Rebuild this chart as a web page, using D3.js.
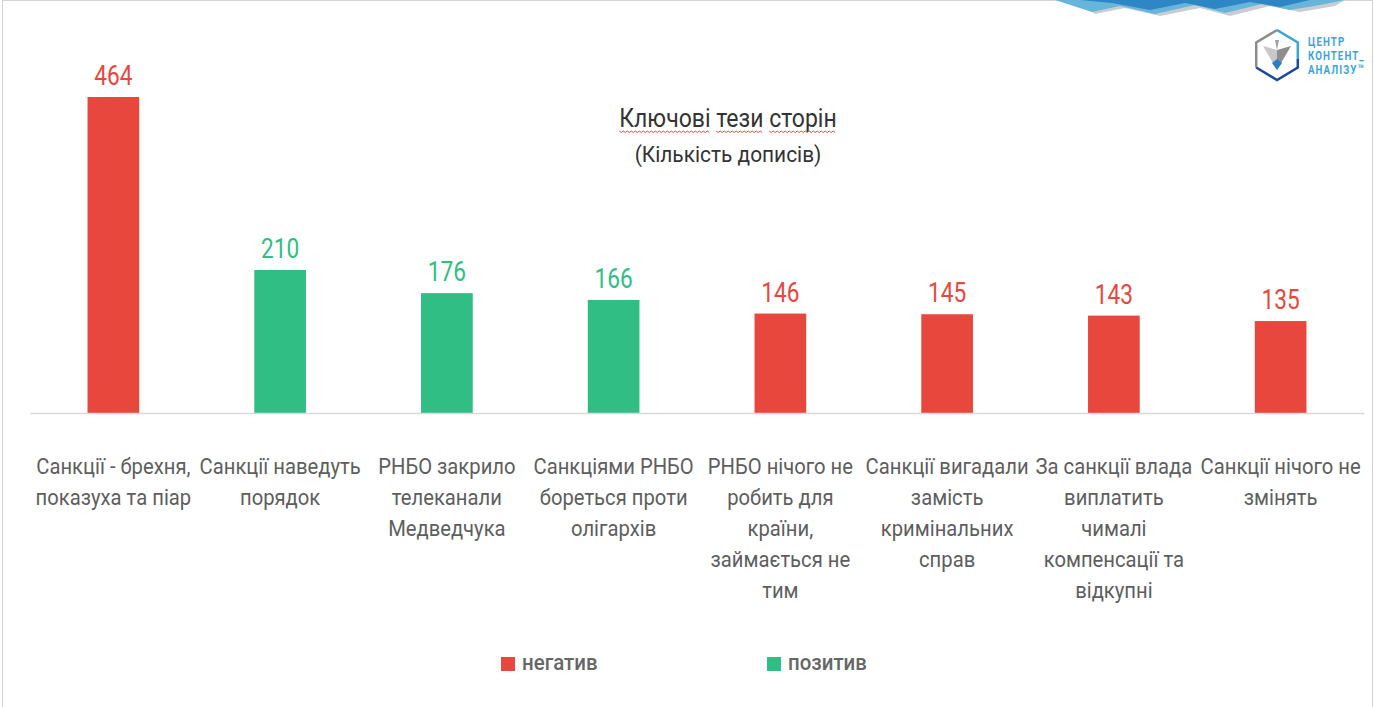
<!DOCTYPE html>
<html>
<head>
<meta charset="utf-8">
<script src="https://cdn.jsdelivr.net/npm/d3@7"></script>
<style>
    html, body { margin: 0; padding: 0; background: #fff; }
    svg text { font-family: Roboto, "Noto Sans", sans-serif; }
</style>
</head>
<body>
<div id="chart"></div>
<script>
// chart data
var categories = [
    ['Санкції - брехня,', 'показуха та піар'],
    ['Санкції наведуть', 'порядок'],
    ['РНБО закрило', 'телеканали', 'Медведчука'],
    ['Санкціями РНБО', 'бореться проти', 'олігархів'],
    ['РНБО нічого не', 'робить для', 'країни,', 'займається не', 'тим'],
    ['Санкції вигадали', 'замість', 'кримінальних', 'справ'],
    ['За санкції влада', 'виплатить', 'чималі', 'компенсації та', 'відкупні'],
    ['Санкції нічого не', 'змінять']
];
var values = [464, 210, 176, 166, 146, 145, 143, 135];
var tones = ['негатив', 'позитив', 'позитив', 'позитив', 'негатив', 'негатив', 'негатив', 'негатив'];
var legendLabels = ['негатив', 'позитив'];
var title = 'Ключові тези сторін';
var subtitle = '(Кількість дописів)';
var logoLines = ['ЦЕНТР', 'КОНТЕНТ_', 'АНАЛІЗУ™'];

(function () {
    'use strict';
    var width = 1374,
        height = 707,
        margin = { top: 97, right: 10, bottom: 294, left: 30 },
        squeeze = 0.92,
        titleX = 728,
        titleScale = 0.92;

    var svg = d3.select('#chart')
        .append('svg')
        .attr('width', width)
        .attr('height', height);

    // slide frame
    svg.append('rect')
        .attr('x', 2.5).attr('y', 0.5)
        .attr('width', width - 4).attr('height', height)
        .attr('fill', 'none')
        .attr('stroke', '#d4d4d4');

    var color = d3.scaleOrdinal()
        .domain(legendLabels)
        .range(['#E8473E', '#31BE84']);

    var x = d3.scaleBand()
        .domain(d3.range(values.length))
        .range([margin.left, width - margin.right])
        .paddingInner(0.69)
        .paddingOuter(0.345);

    var y = d3.scaleLinear()
        .domain([0, 464])
        .range([height - margin.bottom, margin.top]);

    // bars
    svg.append('g')
        .selectAll('rect')
        .data(values)
        .enter().append('rect')
        .attr('x', function (d, i) { return x(i); })
        .attr('y', function (d) { return y(d); })
        .attr('width', x.bandwidth())
        .attr('height', function (d) { return y(0) - y(d); })
        .attr('fill', function (d, i) { return color(tones[i]); });

    // baseline axis
    var axis = svg.append('g')
        .attr('transform', 'translate(0,' + y(0) + ')')
        .call(d3.axisBottom(x).tickSize(0).tickFormat(''));
    axis.select('.domain').attr('stroke', '#d9d9d9').attr('stroke-width', 1.3);

    // value labels
    svg.append('g')
        .selectAll('text')
        .data(values)
        .enter().append('text')
        .attr('transform', function (d, i) {
            return 'translate(' + (x(i) + x.bandwidth() / 2) + ',' + (y(d) - 12) + ') scale(0.84,1)';
        })
        .attr('text-anchor', 'middle')
        .attr('font-size', 27)
        .attr('fill', function (d, i) { return color(tones[i]); })
        .text(function (d) { return d; });

    // category labels
    var cat = svg.append('g')
        .selectAll('text')
        .data(categories)
        .enter().append('text')
        .attr('transform', function (d, i) {
            return 'translate(' + (x(i) + x.bandwidth() / 2) + ',474) scale(' + squeeze + ',1)';
        })
        .attr('text-anchor', 'middle')
        .attr('font-size', 22)
        .attr('fill', '#5e5e5e');
    cat.selectAll('tspan')
        .data(function (d) { return d; })
        .enter().append('tspan')
        .attr('x', 0)
        .attr('y', function (d, j) { return j * 31; })
        .text(function (d) { return d; });

    // titles
    var t = svg.append('text')
        .attr('transform', 'translate(' + titleX + ',127) scale(' + titleScale + ',1)')
        .attr('text-anchor', 'middle')
        .attr('font-size', 25)
        .attr('fill', '#333')
        .text(title);

    svg.append('text')
        .attr('transform', 'translate(' + titleX + ',162) scale(0.95,1)')
        .attr('text-anchor', 'middle')
        .attr('font-size', 22)
        .attr('fill', '#333')
        .text(subtitle);

    // spell-check squiggles under the title words
    var node = t.node(),
        full = node.getComputedTextLength(),
        left = titleX - full * titleScale / 2,
        pos = 0;
    title.split(' ').forEach(function (w) {
        var start = node.getSubStringLength(0, pos),
            len = node.getSubStringLength(pos, w.length),
            x0 = left + start * titleScale,
            x1 = x0 + len * titleScale,
            pts = [];
        for (var k = 0; x0 + k * 2 <= x1; k++) {
            pts.push([x0 + k * 2, 131 + (k % 2 ? 1.5 : 0)]);
        }
        svg.append('path')
            .attr('d', d3.line()(pts))
            .attr('fill', 'none')
            .attr('stroke', '#e8473e')
            .attr('stroke-width', 1);
        pos += w.length + 1;
    });

    // legend
    var legendX = d3.scalePoint().domain(legendLabels).range([501, 767]);
    var legend = svg.append('g')
        .selectAll('g')
        .data(legendLabels)
        .enter().append('g')
        .attr('transform', function (d) { return 'translate(' + legendX(d) + ',657)'; });
    legend.append('rect')
        .attr('width', 14).attr('height', 14)
        .attr('fill', function (d) { return color(d); });
    legend.append('text')
        .attr('transform', 'translate(21,13) scale(0.93,1)')
        .attr('font-size', 22)
        .attr('font-weight', 500)
        .attr('fill', '#666')
        .text(function (d) { return d; });

    // top decoration
    var deco = svg.append('g');
    deco.append('path')
        .attr('d', 'M1075,0 L1345,0 L1335,6 L1300,12 L1270,6 L1230,16 L1200,8 L1160,16 L1125,8 L1095,14 Z')
        .attr('fill', '#c9cdd2');
    deco.append('path')
        .attr('d', 'M1055,0 L1345,0 L1320,5 L1290,10 L1262,4 L1225,13 L1195,5 L1155,14 L1120,6 L1092,12 Z')
        .attr('fill', '#67b6d9');
    deco.append('path')
        .attr('d', 'M1080,0 L1310,0 L1280,7 L1250,2 L1215,9 L1185,3 L1150,10 L1112,3 Z')
        .attr('fill', '#2f86c5');

    // logo
    var logo = svg.append('g').attr('transform', 'translate(1277,55)');
    var hex = d3.range(7).map(function (k) {
        var a = Math.PI / 3 * k - Math.PI / 2;
        return [24 * Math.cos(a), 25 * Math.sin(a)];
    });
    logo.append('path').attr('d', d3.line()(hex.slice(4, 7)))
        .attr('fill', 'none').attr('stroke', '#8c8c8c').attr('stroke-width', 2.5);
    logo.append('path').attr('d', d3.line()([hex[0], hex[1], [hex[1][0], 4]]))
        .attr('fill', 'none').attr('stroke', '#3aa6d8').attr('stroke-width', 2.5);
    logo.append('path').attr('d', d3.line()([[hex[1][0], 4], hex[2], hex[3], hex[4]]))
        .attr('fill', 'none').attr('stroke', '#1c48a0').attr('stroke-width', 2.5);
    logo.append('path').attr('d', 'M-14,-9 L0,-5 L0,15 Z').attr('fill', '#c8c8c8');
    logo.append('path').attr('d', 'M14,-9 L0,-5 L0,15 Z').attr('fill', '#8e8e8e');
    logo.append('path').attr('d', 'M-2,-15 L0,-5 L2,-15 Z').attr('fill', '#a0a0a0');
    logo.append('path').attr('d', 'M-5,8 L0,4 L5,8 L0,15 Z').attr('fill', '#2a7fc6');

    var logoText = svg.append('g')
        .selectAll('text')
        .data(logoLines)
        .enter().append('text')
        .attr('transform', function (d, i) {
            return 'translate(1308,' + (46 + i * 14) + ') scale(0.72,1)';
        })
        .attr('font-size', 13.5)
        .attr('font-weight', 700)
        .attr('letter-spacing', 1.5)
        .attr('fill', '#3aa6d8')
        .text(function (d) { return d; });
})();
</script>
</body>
</html>
